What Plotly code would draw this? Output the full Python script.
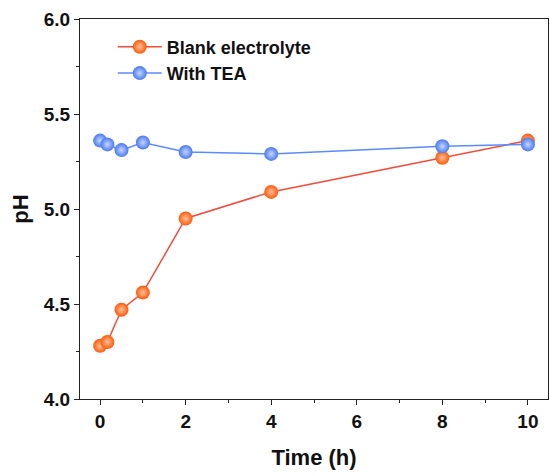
import plotly.graph_objects as go

time_h = [0, 0.17, 0.5, 1, 2, 4, 8, 10]
blank_ph = [4.28, 4.30, 4.47, 4.56, 4.95, 5.09, 5.27, 5.36]
tea_ph = [5.36, 5.34, 5.31, 5.35, 5.30, 5.29, 5.33, 5.34]

FONT = "Liberation Sans, Arial"

fig = go.Figure()
fig.add_trace(go.Scatter(
    x=time_h, y=blank_ph, mode="lines+markers", name="Blank electrolyte",
    line=dict(color="#F24A3C", width=1.5),
    marker=dict(size=14, color="#FF5A0A", line=dict(width=0),
                gradient=dict(type="radial", color="#FFC09A")),
))
fig.add_trace(go.Scatter(
    x=time_h, y=tea_ph, mode="lines+markers", name="With TEA",
    line=dict(color="#5A8BFF", width=1.5),
    marker=dict(size=14, color="#4A78F2", line=dict(width=0),
                gradient=dict(type="radial", color="#C5D6FF")),
))

axis_common = dict(
    showline=True, linecolor="#222", linewidth=1.2, mirror=True,
    ticks="outside", ticklen=5, tickwidth=1.2, tickcolor="#222",
    showgrid=False, zeroline=False,
    tickfont=dict(family=FONT, size=19, color="#111", weight="bold"),
)
fig.update_xaxes(
    range=[-0.47, 10.47], tickvals=[0, 2, 4, 6, 8, 10],
    minor=dict(tickvals=[1, 3, 5, 7, 9], ticks="outside", ticklen=3, tickcolor="#222"),
    title=dict(text="Time (h)", font=dict(family=FONT, size=22, color="#111", weight="bold"), standoff=18),
    **axis_common,
)
fig.update_yaxes(
    range=[4.0, 6.0], tickvals=[4.0, 4.5, 5.0, 5.5, 6.0], tickformat=".1f",
    minor=dict(tickvals=[4.25, 4.75, 5.25, 5.75], ticks="outside", ticklen=3, tickcolor="#222"),
    title=dict(text="pH", font=dict(family=FONT, size=22, color="#111", weight="bold"), standoff=8),
    **axis_common,
)
fig.update_layout(
    width=550, height=476,
    margin=dict(l=80, r=2, t=19, b=77),
    paper_bgcolor="white", plot_bgcolor="white",
    showlegend=True,
    legend=dict(x=0.07, y=0.975, xanchor="left", yanchor="top",
                bgcolor="rgba(0,0,0,0)", itemwidth=44, tracegroupgap=0,
                font=dict(family=FONT, size=18, color="#111", weight="bold")),
)
fig.write_html("out.html")
